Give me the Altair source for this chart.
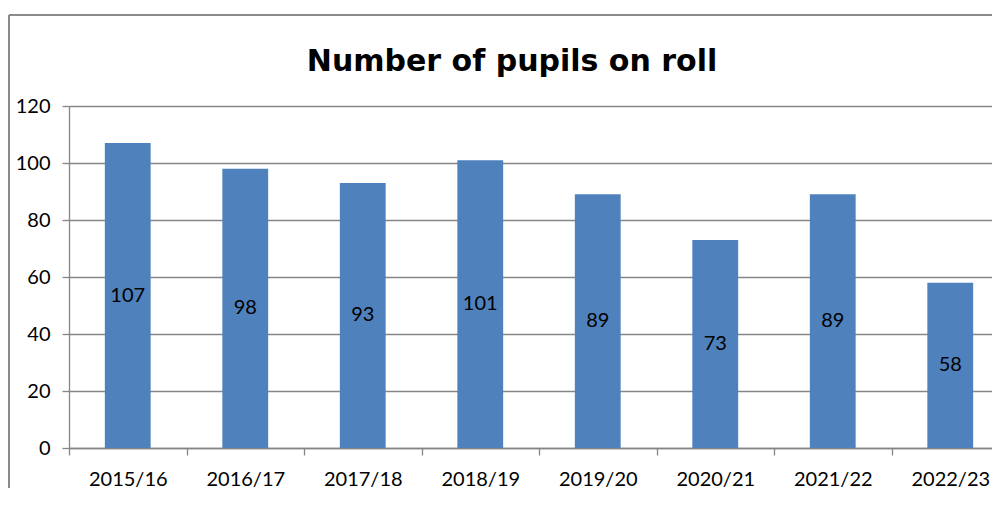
import altair as alt
import pandas as pd

years = ["2015/16", "2016/17", "2017/18", "2018/19", "2019/20", "2020/21", "2021/22", "2022/23"]
pupils = [107, 98, 93, 101, 89, 73, 89, 58]
y_ticks = [0, 20, 40, 60, 80, 100, 120]
title_text = "Number of pupils on roll"

df = pd.DataFrame({"year": years, "pupils": pupils})

FONT = "Lato"
W, H = 940, 342
BAR = "#4F81BD"
GRAY = "#868686"

x_enc = alt.X("year:N", sort=years, title=None,
              scale=alt.Scale(paddingInner=0, paddingOuter=0),
              axis=alt.Axis(labelAngle=0, tickBand="extent", tickSize=7, tickColor=GRAY,
                            domainColor=GRAY, domainWidth=1.3, tickWidth=1.3,
                            labelFontSize=20, labelFont=FONT, labelColor="black",
                            labelPadding=14, grid=False))
y_enc = alt.Y("pupils:Q", title=None,
              scale=alt.Scale(domain=[0, 120], nice=False),
              axis=alt.Axis(values=y_ticks, tickSize=7, tickColor=GRAY, domainColor=GRAY,
                            domainWidth=1.3, tickWidth=1.3, gridColor=GRAY, gridWidth=1.3,
                            labelFontSize=20, labelFont=FONT, labelColor="black",
                            labelPadding=12))

base = alt.Chart(df)
bars = base.mark_bar(color=BAR, width=alt.RelativeBandSize(0.39)).encode(x=x_enc, y=y_enc)
labels = base.transform_calculate(mid="datum.pupils / 2").mark_text(
    font=FONT, fontSize=20, color="black", baseline="middle"
).encode(x=alt.X("year:N", sort=years), y=alt.Y("mid:Q"), text="pupils:Q")

frame_data = alt.Data(values=[{"t": title_text}])
left_border = alt.Chart(frame_data).mark_rule(color="#8a8a8a", strokeWidth=2).encode(
    x=alt.value(-60), y=alt.value(-91), y2=alt.value(H + 40))
top_border = alt.Chart(frame_data).mark_rule(color="#8a8a8a", strokeWidth=2).encode(
    x=alt.value(-60), x2=alt.value(W), y=alt.value(-91))
title = alt.Chart(frame_data).mark_text(
    font="DejaVu Sans", fontSize=30, fontWeight="bold", color="black",
    align="center", baseline="alphabetic"
).encode(x=alt.value(443), y=alt.value(-35), text="t:N")

chart = alt.layer(bars, labels, left_border, top_border, title).properties(
    width=W, height=H,
    padding={"left": 61, "top": 98, "right": -17, "bottom": 40},
    autosize=alt.AutoSizeParams(type="none"),
).configure_view(stroke=None).configure(background="white")

chart.save("out.html", embed_options={"renderer": "svg", "actions": False})
